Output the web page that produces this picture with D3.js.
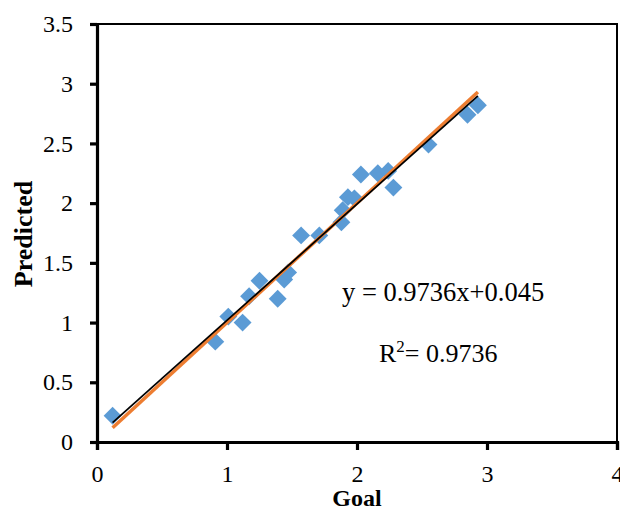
<!DOCTYPE html>
<html lang="en">
<head>
  <meta charset="UTF-8">
  <title>Goal vs Predicted</title>
  <script src="https://d3js.org/d3.v7.min.js"></script>
  <style>
    body { margin: 0; padding: 0; background: #fff; }
    svg text { font-family: "Liberation Serif", "Times New Roman", serif; fill: #000; }
  </style>
</head>
<body>
  <script>
    // measured goal vs model prediction
    var goal      = [0.12, 0.91, 1.01, 1.12, 1.17, 1.25, 1.39, 1.44, 1.47, 1.57, 1.71, 1.88, 1.89, 1.93, 1.98, 2.03, 2.16, 2.24, 2.28, 2.55, 2.85, 2.93];
    var predicted = [0.22, 0.84, 1.05, 1.00, 1.22, 1.35, 1.20, 1.36, 1.42, 1.73, 1.73, 1.84, 1.94, 2.05, 2.04, 2.24, 2.25, 2.27, 2.13, 2.49, 2.74, 2.82];

    var slope = 0.9736, intercept = 0.045, r2 = 0.9736;
    var xTicks = [0, 1, 2, 3, 4];
    var yTicks = [0, 0.5, 1, 1.5, 2, 2.5, 3, 3.5];

    var W = 620, H = 510;
    var margin = { top: 24, right: 3, bottom: 68, left: 97 };

    var svg = d3.select("body").append("svg")
        .attr("width", W)
        .attr("height", H);

    var x = d3.scaleLinear().domain([0, 4]).range([margin.left, W - margin.right]);
    var y = d3.scaleLinear().domain([0, 3.5]).range([H - margin.bottom, margin.top]);

    // frame (top / right thinner)
    svg.append("rect")
        .attr("x", x(0)).attr("y", y(3.5))
        .attr("width", x(4) - x(0)).attr("height", y(0) - y(3.5))
        .attr("fill", "none").attr("stroke", "#000").attr("stroke-width", 2);

    var points = goal.map(function(g, i) { return { g: g, p: predicted[i] }; });

    // data markers
    svg.append("g").selectAll("path")
      .data(points)
      .enter().append("path")
        .attr("d", d3.symbol(d3.symbolSquare, 160))
        .attr("transform", function(d) { return "translate(" + x(d.g) + "," + y(d.p) + ") rotate(45)"; })
        .attr("fill", "#5B9BD5");

    var gx = d3.extent(goal);
    var line = d3.line().x(function(d) { return x(d[0]); }).y(function(d) { return y(d[1]); });

    // 1:1 line
    svg.append("path")
        .datum(gx.map(function(v) { return [v, v]; }))
        .attr("d", line)
        .attr("fill", "none").attr("stroke", "#ED7D31").attr("stroke-width", 3.5);

    // linear fit
    svg.append("path")
        .datum(gx.map(function(v) { return [v, slope * v + intercept]; }))
        .attr("d", line)
        .attr("fill", "none").attr("stroke", "#000").attr("stroke-width", 1.8);

    // axes
    var yAxis = svg.append("g")
        .attr("transform", "translate(" + x(0) + ",0)")
        .call(d3.axisLeft(y).tickValues(yTicks).tickSize(7).tickPadding(17).tickFormat(d3.format("")));
    var xAxis = svg.append("g")
        .attr("transform", "translate(0," + y(0) + ")")
        .call(d3.axisBottom(x).tickValues(xTicks).tickSize(8).tickPadding(15).tickFormat(d3.format("")));

    [xAxis, yAxis].forEach(function(a) {
      a.select(".domain").attr("stroke", "#000").attr("stroke-width", 3.2);
      a.selectAll(".tick line").attr("stroke", "#000").attr("stroke-width", 3.2);
      a.selectAll("text")
          .style("font-family", "'Liberation Serif', 'Times New Roman', serif")
          .style("font-size", "24px").attr("fill", "#000");
    });

    // axis titles
    svg.append("text")
        .attr("x", (x(0) + x(4)) / 2).attr("y", 506)
        .attr("text-anchor", "middle")
        .style("font-size", "24px").style("font-weight", "bold")
        .text("Goal");

    svg.append("text")
        .attr("transform", "translate(32," + (y(1.75) + 1) + ") rotate(-90)")
        .attr("text-anchor", "middle")
        .style("font-size", "26px").style("font-weight", "bold")
        .text("Predicted");

    // equation labels
    svg.append("text")
        .attr("x", 342).attr("y", 301)
        .style("font-size", "26.5px")
        .text("y = " + slope + "x+" + intercept);

    var rt = svg.append("text")
        .attr("x", 379).attr("y", 362)
        .style("font-size", "26px");
    rt.append("tspan").text("R");
    rt.append("tspan").attr("dy", -10).style("font-size", "17px").text("2");
    rt.append("tspan").attr("dy", 10).text("= " + r2);
  </script>
</body>
</html>
